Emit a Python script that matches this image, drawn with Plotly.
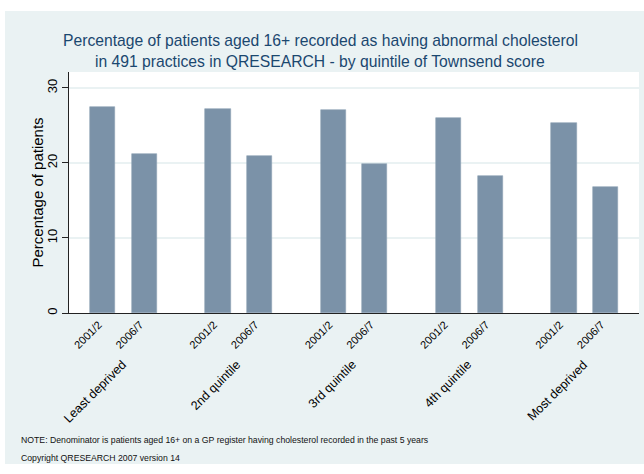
import plotly.graph_objects as go

# Data
groups = ["Least deprived", "2nd quintile", "3rd quintile", "4th quintile", "Most deprived"]
periods = ["2001/2", "2006/7"]
pct_2001 = [27.4, 27.2, 27.0, 26.0, 25.3]
pct_2006 = [21.2, 20.9, 19.9, 18.3, 16.8]
y_ticks = [0, 10, 20, 30]

title_lines = [
    "Percentage of patients aged 16+ recorded as having abnormal cholesterol",
    "in 491 practices in QRESEARCH - by quintile of Townsend score",
]
note_lines = [
    "NOTE: Denominator is patients aged 16+ on a GP register having cholesterol recorded in the past 5 years",
    "Copyright QRESEARCH 2007 version 14",
]

W, H = 644, 474
# plot area in pixels
L, R, T, B = 69, 639, 72, 313
GROUP_STEP = 2.78  # bar slots between groups
BAR_W = 0.61

FONT = "Liberation Sans, Arial, sans-serif"
BG = "#EAF2F3"
BAR = "#7B92A8"
TITLE_C = "#1A476F"


def px_x(x):
    return (x - L) / (R - L)


def px_y(y):
    return (B - y) / (B - T)


# positions of bars on a numeric axis
x_pos = []
for g in range(len(groups)):
    x_pos.append([g * GROUP_STEP + j for j in range(len(periods))])

fig = go.Figure()
fig.add_trace(go.Bar(
    x=[p[0] for p in x_pos], y=pct_2001, width=BAR_W,
    marker=dict(color=BAR, line=dict(color="#8DA2B6", width=0.6)),
    showlegend=False, name=periods[0],
))
fig.add_trace(go.Bar(
    x=[p[1] for p in x_pos], y=pct_2006, width=BAR_W,
    marker=dict(color=BAR, line=dict(color="#8DA2B6", width=0.6)),
    showlegend=False, name=periods[1],
))

tickvals = [v for p in x_pos for v in p]
ticktext = [periods[j] for _ in groups for j in range(len(periods))]

# x units per pixel
unit = (x_pos[-1][0] - x_pos[0][0]) / (564 - 102.7)
x_min = x_pos[0][0] - (102.7 - L) * unit
x_max = x_min + (R - L) * unit

annotations = []
for i, line in enumerate(title_lines):
    annotations.append(dict(
        text=line, x=px_x(320), y=px_y(40 + 22 * i), xref="paper", yref="paper",
        xanchor="center", yanchor="middle", showarrow=False,
        font=dict(family=FONT, size=15.7, color=TITLE_C),
    ))
for i, line in enumerate(note_lines):
    annotations.append(dict(
        text=line, x=px_x(19), y=px_y(440 + 18 * i), xref="paper", yref="paper",
        xanchor="left", yanchor="middle", showarrow=False,
        font=dict(family=FONT, size=8.7, color="#111111"),
    ))
annotations.append(dict(
    text="Percentage of patients", x=px_x(37), y=px_y((T + B) / 2),
    xref="paper", yref="paper", textangle=-90, showarrow=False,
    xanchor="center", yanchor="middle",
    font=dict(family=FONT, size=15, color="#000000"),
))
for g, name in enumerate(groups):
    annotations.append(dict(
        text=name, x=(x_pos[g][0] + x_pos[g][1]) / 2 + 8 * unit, y=px_y(355),
        xref="x", yref="paper", textangle=-45, showarrow=False,
        xanchor="right", yanchor="top",
        font=dict(family=FONT, size=12.5, color="#000000"),
    ))

fig.update_layout(
    width=W, height=H,
    margin=dict(l=L, r=W - R, t=T, b=H - B, pad=0),
    paper_bgcolor="white", plot_bgcolor="white",
    font=dict(family=FONT, color="#000000"),
    bargap=0,
    shapes=[
        dict(type="rect", xref="paper", yref="paper", layer="below",
             x0=px_x(5), x1=px_x(W), y0=px_y(464), y1=px_y(11),
             fillcolor=BG, line=dict(width=0)),
        dict(type="rect", xref="paper", yref="paper", layer="below",
             x0=0, x1=1, y0=0, y1=1, fillcolor="white", line=dict(width=0)),
    ],
    annotations=annotations,
    xaxis=dict(
        range=[x_min, x_max], tickvals=tickvals, ticktext=ticktext,
        tickangle=-45, tickfont=dict(size=11), ticks="", ticklabelshift=-4,
        showline=True, linecolor="#222222", linewidth=1,
        showgrid=False, zeroline=False, fixedrange=True,
    ),
    yaxis=dict(
        range=[0, 32.13], tickvals=y_ticks, tickangle=-90,
        tickfont=dict(size=13), ticks="outside", ticklen=6, tickcolor="#222222",
        showline=True, linecolor="#222222", linewidth=1,
        showgrid=True, gridcolor=BG, gridwidth=1.5, zeroline=False,
    ),
)

# drop the default page margin so the figure sits at the window corner
fig.write_html("out.html", config={"displayModeBar": False},
               post_script="document.body.style.margin='0';")
